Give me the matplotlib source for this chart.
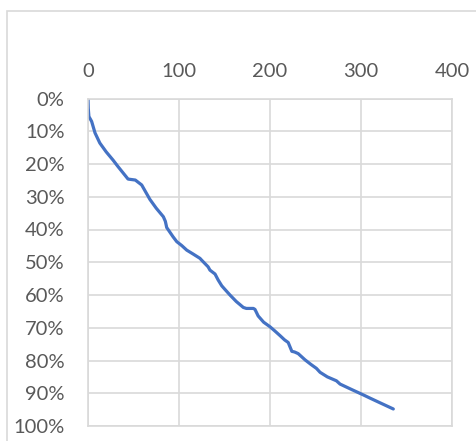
import matplotlib.pyplot as plt
from matplotlib.patches import Rectangle
from matplotlib.ticker import PercentFormatter

# curve (x value, cumulative share in %)
days = [0, 0.3, 1, 4, 7.7, 13, 20, 27.5, 33, 38.5, 44, 52, 59, 68, 75, 82.8,
        85, 86.5, 93.4, 97.5, 103, 108.5, 115, 123, 125, 132, 134, 139.6, 143,
        147, 150.5, 156, 163, 170.7, 174, 176, 181.7, 183.5, 187, 193, 200, 205,
        211, 216, 220, 224, 227, 231, 238.5, 245, 251, 255, 263, 273, 277,
        290, 302.5, 310, 320, 335.5]
share = [0, 3.0, 5.5, 7, 10.5, 13.6, 16.3, 18.8, 20.8, 22.7, 24.6, 24.9, 26.4,
         30.8, 33.5, 36.1, 37.5, 39.4, 42.2, 43.7, 44.9, 46.3, 47.4, 48.8,
         49.4, 51.4, 52.4, 53.6, 55.4, 57.2, 58.3, 60.0, 62.0, 63.8, 64.1,
         64.1, 64.1, 64.4, 66.4, 68.3, 69.7, 70.9, 72.4, 73.7, 74.5, 77.2,
         77.4, 77.9, 79.8, 81.2, 82.4, 83.6, 85.0, 86.2, 87.2, 88.9, 90.5,
         91.5, 92.8, 94.8]

xticks = [0, 100, 200, 300, 400]
yticks = [0, 10, 20, 30, 40, 50, 60, 70, 80, 90, 100]

fig = plt.figure(figsize=(4.77, 4.41), dpi=100)
fig.patches.append(Rectangle((7 / 477, -0.1), 1.2, 1.1 - 11 / 441,
                             transform=fig.transFigure, fill=False,
                             edgecolor='#d9d9d9', linewidth=1.2))

ax = fig.add_axes([88 / 477, 1 - 426 / 441, (452 - 88) / 477, (426 - 98.5) / 441])
ax.plot(days, share, color='#4472C4', linewidth=2.3, solid_capstyle='round')

ax.set_xlim(0, 400)
ax.set_ylim(100, 0)
ax.set_xticks(xticks)
ax.set_yticks(yticks)
ax.yaxis.set_major_formatter(PercentFormatter(decimals=0))
ax.xaxis.tick_top()
ax.grid(True, color='#d9d9d9', linewidth=1.2)
ax.set_axisbelow(True)
for s in ax.spines.values():
    s.set_color('#d9d9d9')
    s.set_linewidth(1.2)
ax.tick_params(length=0, labelsize=14.5, labelcolor='#595959')
ax.tick_params(axis='x', pad=13)
ax.tick_params(axis='y', pad=17)
for lab in ax.get_xticklabels() + ax.get_yticklabels():
    lab.set_family(['Lato', 'DejaVu Sans'])

fig.savefig('out.png', dpi=100)
